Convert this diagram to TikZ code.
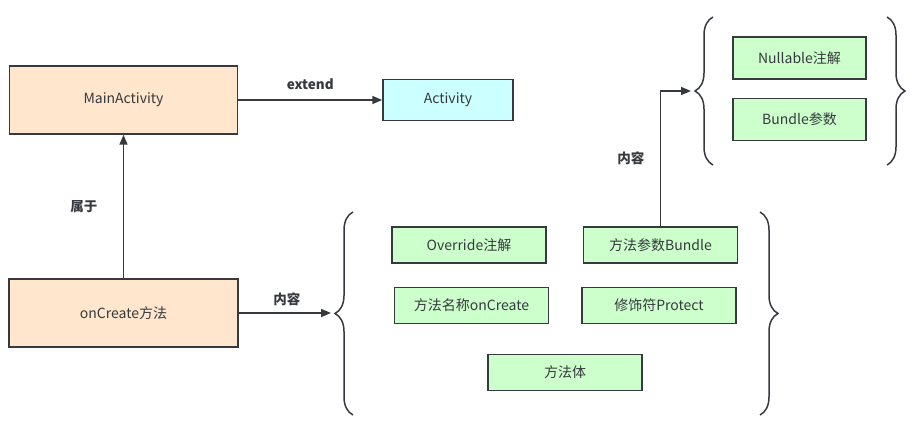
\documentclass[tikz,border=0pt]{standalone}
\usepackage{fontspec}
\setmainfont{Noto Sans CJK SC}
\usepackage{xcolor}
\usepackage{tikz}
\usetikzlibrary{arrows.meta, positioning, decorations.pathreplacing}
\definecolor{peach}{HTML}{FFE6CC}
\definecolor{skyblue}{HTML}{CCFFFF}
\definecolor{mint}{HTML}{CCFFCC}
\definecolor{edge}{HTML}{36393D}

\begin{document}
\begin{tikzpicture}[x=1pt, y=-1pt, font=\fontsize{14}{16}\selectfont, text=edge,
  box/.style={draw=edge, line width=1.5pt, minimum width=154pt, minimum height=36pt, inner sep=0pt, align=center},
  part/.style={box, fill=mint},
  link/.style={draw=edge, line width=1.5pt, -{Triangle[length=10pt, width=8pt]}},
  curly/.style={draw=edge, line width=1.5pt, decorate, decoration={brace, amplitude=18pt}},
  tag/.style={font=\fontsize{13.5}{15}\selectfont\bfseries}]
\useasboundingbox (0,0) rectangle (914,427);
\node[box, fill=peach, minimum width=228pt, minimum height=68pt] (main) at (123.5,100) {MainActivity};
\node[box, fill=skyblue, minimum width=130pt, minimum height=41pt] (activity) at (448,100) {Activity};
\node[box, fill=peach, minimum width=229pt, minimum height=68pt] (oncreate) at (123.5,313) {onCreate方法};
\node[part] (override) at (469,245) {Override注解};
\node[part, right=36pt of override] (bundle) {方法参数Bundle};
\node[part] (name) at (471.5,305.5) {方法名称onCreate};
\node[part] (modifier) at (659,305.5) {修饰符Protect};
\node[part] (body) at (565,372.5) {方法体};
\node[part, minimum width=133pt, minimum height=42pt] (nullable) at (799.5,58) {Nullable注解};
\node[part, minimum width=133pt, minimum height=42pt, below=18pt of nullable] (bundlearg) {Bundle参数};
% braces round the parts
\draw[curly] (353,415) -- (353,212);
\draw[curly] (760,212) -- (760,415);
\draw[curly] (713,165) -- (713,17);
\draw[curly] (887,17) -- (887,165);
\coordinate (methodbrace) at (335,313);
\coordinate (parambrace) at (695,91);
\draw[link] (main) -- (activity) node[midway, above=6pt, tag] {extend};
\draw[link] (oncreate) -- (main) node[midway, left=22pt, tag] {属于};
\draw[link, shorten >=4pt] (oncreate) -- (methodbrace) node[midway, above=3pt, tag] {内容};
\draw[link, shorten >=4pt] (bundle) |- (parambrace) node[pos=0.25, left=12pt, tag] {内容};
\end{tikzpicture}
\end{document}
